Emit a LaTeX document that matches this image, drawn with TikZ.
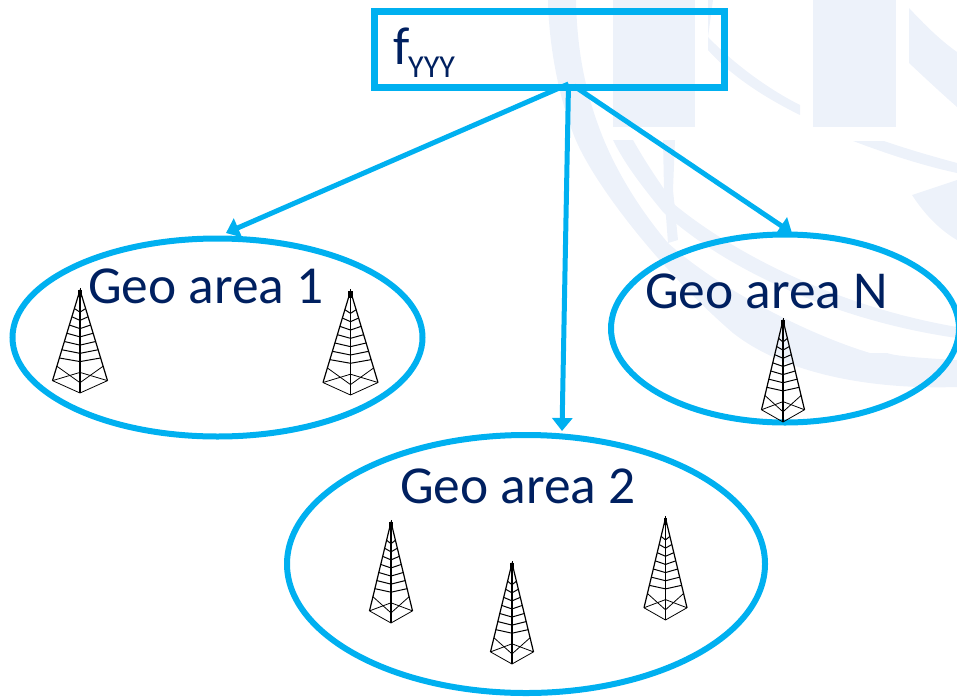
\documentclass[tikz,border=0pt]{standalone}
\usepackage{fontspec}
\setmainfont{Carlito}
\usetikzlibrary{arrows.meta,shapes.geometric}
\definecolor{cyanline}{HTML}{00B0F0}
\definecolor{navytext}{HTML}{002060}
\definecolor{wmark}{HTML}{EDF2FA}
\tikzset{
  geo/.style={draw=cyanline,line width=6pt,fill=none,ellipse,inner sep=0pt,outer sep=0pt},
  lbl/.style={text=navytext,font=\fontsize{53.4}{56}\selectfont,inner sep=0pt,anchor=base west},
  link/.style={draw=cyanline,line width=5pt,-{Triangle[length=13pt,width=20pt]}},
  tw/.style={draw=black,line width=1pt,line join=round},
  wm/.style={fill=wmark,draw=none}
}
% #1 apex x, #2 apex y, #3 half width, #4 height
\newcommand{\towerdraw}[4]{%
  \begin{scope}[shift={(#1,#2)},x={(#3 pt,0pt)},y={(0pt,-#4 pt)}]
    \draw[tw,line width=1.2pt] (-1,0.88)--(0,0)--(1,0.88);
    \draw[tw,line width=0.8pt] (1,0.88)--(0,1)--(-1,0.88);
    \draw[tw,line width=1.2pt] (0,0)--(0,1);
    \draw[tw,line width=0.8pt] (-1,0.88)--(0,0.80)--(1,0.88);
    \draw[tw,line width=0.8pt] (-0.84,0.74)--(0,0.90)--(0.84,0.74);
    \foreach \t in {0.18,0.26,0.34,0.42,0.50,0.58,0.66}{
      \draw[tw] ({-\t*1.136},\t)--(0,{\t+0.035})--({\t*1.136},\t);
    }
    \fill[black] (-0.09,0.0)rectangle(0.09,0.07);
    \draw[tw] (0,-0.02)--(0,0);
  \end{scope}}
\begin{document}
\begin{tikzpicture}[x=1pt,y=-1pt]
\useasboundingbox (0,0) rectangle (957,696);
% watermark
\fill[wm] (613,0) rectangle (695,127);
\fill[wm] (813,0) rectangle (896,127);
% main thick band
\fill[wm] (548,0) .. controls (549,50) and (560,100) .. (573,133) .. controls (590,180) and (660,270) .. (733,333) .. controls (780,370) and (860,390) .. (957,387) -- (957,360) .. controls (920,358) and (895,356) .. (887,353) -- (870,353) .. controls (810,335) and (720,290) .. (668,243) .. controls (640,210) and (615,170) .. (600,130) .. controls (585,90) and (577,50) .. (576,0) -- cycle;
% thin band
\fill[wm] (613,140) -- (633,140) .. controls (650,170) and (665,190) .. (675,205) .. controls (730,250) and (830,305) .. (957,327) -- (957,338) .. controls (830,320) and (720,265) .. (663,212) .. controls (645,190) and (625,165) .. (613,140) -- cycle;
% vertical piece
\fill[wm] (663,140) -- (675,140) -- (673,190) -- (678,240) -- (668,243) -- (664,190) -- cycle;
% top arc
\fill[wm] (708,0) -- (713,0) -- (708,37) .. controls (735,65) and (770,90) .. (800,105) -- (800,115) .. controls (765,98) and (730,75) .. (708,50) -- cycle;
\fill[wm] (909,8) .. controls (925,25) and (940,40) .. (957,52) -- (957,107) .. controls (940,92) and (925,78) .. (909,63) -- cycle;
\fill[wm] (853,141) -- (884,141) .. controls (910,150) and (935,157) .. (957,163) -- (957,173) .. controls (920,165) and (885,153) .. (853,141) -- cycle;
\fill[wm] (912,195) -- (957,180) -- (957,240) .. controls (940,230) and (925,215) .. (912,195) -- cycle;
% main shapes
\node[draw=cyanline,line width=6.5pt,minimum width=350pt,minimum height=76pt,inner sep=0pt,outer sep=0pt] (box) at (549.5,49.5) {};
\node[geo,minimum width=410pt,minimum height=198pt] (g1) at (217.5,337.5) {};
\node[geo,minimum width=348pt,minimum height=188pt] (gn) at (785,328.5) {};
\node[geo,minimum width=478pt,minimum height=258pt] (g2) at (526,564) {};
\coordinate (hub) at (568.5,84);
\coordinate (hubr) at (574,86);
\coordinate (e1) at (226,233);
\coordinate (e2) at (562,431);
\coordinate (en) at (792,233);
\draw[link] (hub) -- (e1);
\draw[link] (hub) -- (e2);
\draw[link] (hubr) -- (en);
\node[lbl] (tb) at (393,64) {f};
\node[text=navytext,font=\fontsize{32}{34}\selectfont,inner sep=0pt,anchor=base west] (tbs) at (408,77) {YYY};
\node[lbl] (t1) at (88,303) {Geo area 1};
\node[lbl] (tn) at (645,308) {Geo area N};
\node[lbl] (t2) at (400,503) {Geo area 2};
\towerdraw{80}{290}{27.5}{103}
\towerdraw{350.5}{291}{27.5}{104}
\towerdraw{783}{320}{21.5}{102}
\towerdraw{391}{522}{21.5}{101}
\towerdraw{512}{563}{21.5}{101}
\towerdraw{665.5}{518}{21.5}{102}
\end{tikzpicture}
\end{document}
